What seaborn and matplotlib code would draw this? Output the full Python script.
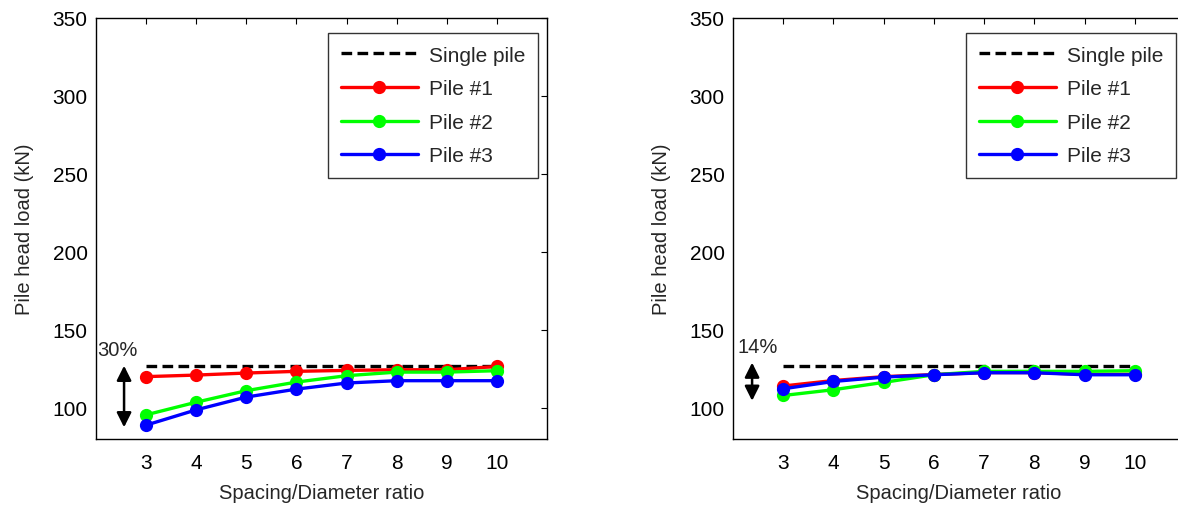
import numpy as np
import pandas as pd
import matplotlib
matplotlib.use("Agg")
import matplotlib.pyplot as plt
import seaborn as sns

ratio = [3, 4, 5, 6, 7, 8, 9, 10]
single_pile = 126.5

# left panel
left_p1 = [120, 121, 122.3, 123.4, 124, 124.4, 124.4, 126.5]
left_p2 = [95.5, 103.6, 111, 116.5, 120.6, 122.9, 122.9, 123.8]
left_p3 = [88.9, 98.7, 106.9, 112, 115.9, 117.4, 117.4, 117.4]
# right panel
right_p1 = [114, 117.5, 120, 121.3, 122.6, 122.6, 121.5, 121.5]
right_p2 = [107.9, 111.6, 116.3, 121.2, 123.4, 123.4, 123.4, 123.8]
right_p3 = [112.2, 116.9, 119.7, 121.2, 122.5, 122.5, 121.2, 121.2]

series_names = ["Pile #1", "Pile #2", "Pile #3"]
series_colors = ["#ff0000", "#00ff00", "#0000ff"]
yticks = [100, 150, 200, 250, 300, 350]
xlabel = "Spacing/Diameter ratio"
ylabel = "Pile head load (kN)"
left_pct = "30%"
right_pct = "14%"

sns.set_style("white")
plt.rcParams['font.family'] = ['Liberation Sans', 'DejaVu Sans']

W, H = 1178, 506
fig = plt.figure(figsize=(W / 100, H / 100), dpi=100)
ax1 = fig.add_axes([96 / W, 1 - 440 / H, 451 / W, 421 / H])
ax2 = fig.add_axes([733 / W, 1 - 440 / H, 452 / W, 421 / H])


def draw(ax, p1, p2, p3, pct, arrow_x, arrow_y0, arrow_y1, text_x, text_y):
    ax.plot(ratio, [single_pile] * len(ratio), ls=(0, (3.2, 1.6)), color="black",
            lw=2.4, label="Single pile", zorder=2)
    df = pd.DataFrame({
        "ratio": ratio * 3,
        "load": p1 + p2 + p3,
        "series": sum([[n] * len(ratio) for n in series_names], []),
    })
    sns.lineplot(data=df, x="ratio", y="load", hue="series", hue_order=series_names,
                 palette=series_colors, marker="o", markersize=8, markeredgewidth=1.5,
                 markeredgecolor="auto", lw=2.4, ax=ax, zorder=3)
    for ln in ax.lines:
        ln.set_markeredgecolor(ln.get_color())
    ax.set_xlim(2, 11)
    ax.set_ylim(80, 350)
    ax.set_xticks(ratio)
    ax.set_yticks(yticks)
    ax.tick_params(direction="in", length=4, width=0.8, top=True, right=True,
                   labelsize=15, colors="black")
    ax.tick_params(axis="x", pad=10)
    ax.tick_params(axis="y", pad=6)
    for s in ax.spines.values():
        s.set_color("black")
        s.set_linewidth(1.0)
    ax.set_xlabel(xlabel, fontsize=14.5, labelpad=8)
    ax.set_ylabel(ylabel, fontsize=14.5, labelpad=13)
    ax.annotate("", xy=(arrow_x, arrow_y0), xytext=(arrow_x, arrow_y1),
                arrowprops=dict(arrowstyle="<|-|>", color="black", lw=1.8,
                                mutation_scale=22, shrinkA=0, shrinkB=0))
    ax.text(text_x, text_y, pct, fontsize=14.5, ha="center", va="center", clip_on=False)
    leg = ax.legend(loc="upper right", bbox_to_anchor=(0.98, 0.964), borderaxespad=0,
                    fontsize=15, frameon=True, fancybox=False, edgecolor="black",
                    handlelength=3.7, borderpad=0.6, labelspacing=0.7, handletextpad=0.55)
    leg.get_frame().set_linewidth(1.0)
    for h in leg.get_lines():
        h.set_markeredgecolor(h.get_color())


draw(ax1, left_p1, left_p2, left_p3, left_pct, 2.56, 87.5, 127, 2.42, 137.5)
draw(ax2, right_p1, right_p2, right_p3, right_pct, 2.38, 104.5, 129, 2.5, 139.5)

fig.savefig("out.png", dpi=100)
